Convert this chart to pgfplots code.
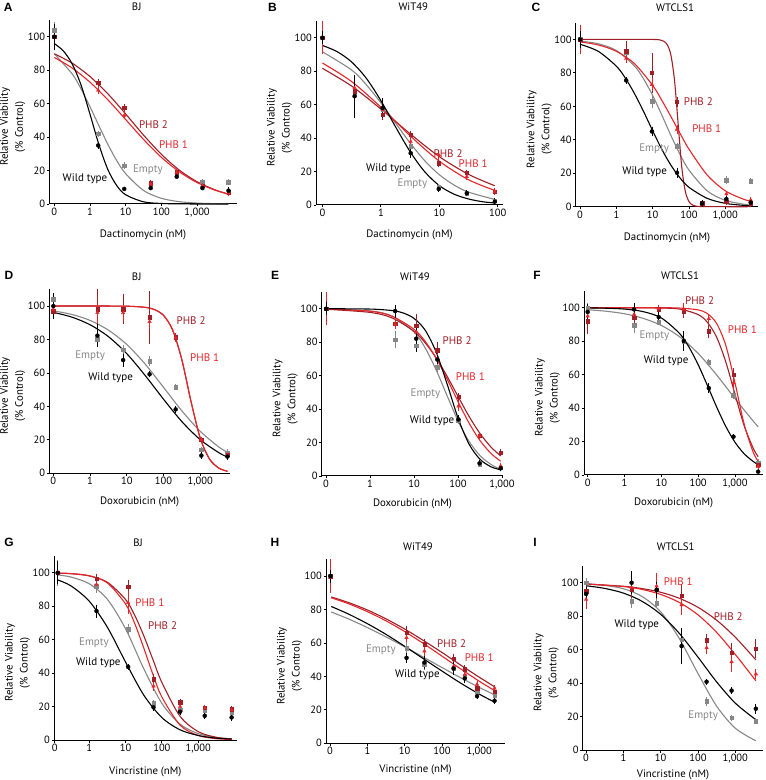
\documentclass[border=0pt]{standalone}
\usepackage{fontspec}
\setmainfont{PT Sans}
\newfontfamily\letterfont{Liberation Sans}
\usepackage{pgfplots}
\pgfplotsset{compat=1.18}
\definecolor{cemp}{RGB}{135,135,135}
\definecolor{cpa}{RGB}{228,38,42}
\definecolor{cpb}{RGB}{160,30,38}
\newcommand{\fs}[2]{\fontsize{#1}{#2}\selectfont}
\pgfplotsset{
  panel/.style={anchor=south west, scale only axis, height=184pt, ymin=0, ymax=110,
    axis lines=left, axis line style={-, line width=1pt}, ytick={0,20,40,60,80,100},
    tick align=outside, major tick length=2.5pt, tick style={line width=0.8pt, black},
    tick label style={font=\fs{10.5}{12}, inner sep=1.5pt}, label style={font=\fs{10.8}{15}},
    ylabel={Relative Viability\\(\% Control)}, ylabel style={align=center, inner sep=1pt, at={(ticklabel cs:0.42)}},
    xlabel style={yshift=-5pt},
    clip=false, /pgf/number format/assume math mode=true,
    xtick={-1,0,1,2,3}, xticklabels={0,1,10,100,{1,000}}},
  cw/.style={black, line width=1.1pt, smooth, no marks},
  ce/.style={cemp, line width=1.1pt, smooth, no marks},
  ca/.style={cpa, line width=1.1pt, smooth, no marks},
  cb/.style={cpb, line width=1.1pt, smooth, no marks},
  pt/.style={only marks, /pgfplots/error bars/y dir=both, /pgfplots/error bars/y explicit,
    /pgfplots/error bars/error bar style={line width=0.7pt},
    /pgfplots/error bars/error mark options={mark size=1.5pt, line width=0.7pt}},
  pw/.style={pt, black, mark=*, mark size=2pt},
  pe/.style={pt, cemp, mark=square*, mark size=1.8pt},
  pa/.style={pt, cpa, mark=triangle*, mark size=2pt},
  pb/.style={pt, cpb, mark=square*, mark size=1.7pt},
}
\newcommand{\lbl}[4]{\node[text=#1, font=\fs{11}{12}] at (axis cs:#2,#3) {#4};}
\begin{document}
\begin{tikzpicture}
\useasboundingbox (0,0) rectangle (766pt,780pt);
% titles and letters
\node[font=\letterfont\bfseries\fs{12}{13}] at (8.3pt,773pt) {A};
\node[font=\letterfont\bfseries\fs{12}{13}] at (272.5pt,773pt) {B};
\node[font=\letterfont\bfseries\fs{12}{13}] at (536pt,773pt) {C};
\node[font=\letterfont\bfseries\fs{12}{13}] at (9pt,505pt) {D};
\node[font=\letterfont\bfseries\fs{12}{13}] at (275pt,505pt) {E};
\node[font=\letterfont\bfseries\fs{12}{13}] at (537pt,505pt) {F};
\node[font=\letterfont\bfseries\fs{12}{13}] at (9pt,237.7pt) {G};
\node[font=\letterfont\bfseries\fs{12}{13}] at (275pt,237.7pt) {H};
\node[font=\letterfont\bfseries\fs{12}{13}] at (535pt,238pt) {I};
\node[font=\fs{10.8}{12}] at (136.7pt,773pt) {BJ};
\node[font=\fs{10.8}{12}] at (413.3pt,773pt) {WiT49};
\node[font=\fs{10.8}{12}] at (675pt,772pt) {WTCLS1};
\node[font=\fs{10.8}{12}] at (136.7pt,503.3pt) {BJ};
\node[font=\fs{10.8}{12}] at (415pt,503.3pt) {WiT49};
\node[font=\fs{10.8}{12}] at (680pt,504pt) {WTCLS1};
\node[font=\fs{10.8}{12}] at (138pt,237pt) {BJ};
\node[font=\fs{10.8}{12}] at (418pt,233.3pt) {WiT49};
\node[font=\fs{10.8}{12}] at (675.7pt,233pt) {WTCLS1};

% ---------------- A ----------------
\begin{axis}[panel, at={(49.3pt,576pt)}, width=187.4pt, xmin=-1.14, xmax=4.11, xlabel={Dactinomycin (nM)}, xlabel style={yshift=-3pt}]
\addplot[ce] coordinates {(-1,89.8) (-0.5,77.8) (-0.25,68.8) (0,58.2) (0.25,46.8) (0.5,35.7) (0.75,25.9) (1,18.1) (1.5,8.1) (2,3.4) (2.5,1.4) (3,0.55) (3.5,0.2) (3.88,0.1)};
\addplot[cb] coordinates {(-1,89.8) (-0.5,84.2) (0,76.2) (0.5,65.9) (1,53.8) (1.5,41.2) (2,29.7) (2.5,20.3) (3,13.3) (3.5,8.5) (3.88,5.9)};
\addplot[ca] coordinates {(-1,87.6) (-0.5,81.3) (0,72.8) (0.5,62.3) (1,50.5) (1.5,38.6) (2,27.9) (2.5,19.3) (3,12.8) (3.5,8.3) (3.88,5.9)};
\addplot[cw] coordinates {(-1,95.9) (-0.75,91.6) (-0.5,83.8) (-0.25,71.1) (0,53.7) (0.25,35.5) (0.5,20.6) (0.75,11.0) (1,5.5) (1.5,1.3) (2,0.3) (2.5,0.1) (3,0) (3.88,0)};
\addplot[pe] table[x=u,y=v,y error=e]{
u v e
-1 104 4
0.23 42 1
0.96 23 1
1.70 12 1
2.43 18 1
3.15 13 1
3.88 13 1
};
\addplot[pb] table[x=u,y=v,y error=e]{
u v e
-1 100 3
0.23 72.5 1.5
0.96 57.5 1.5
1.70 12.5 1
2.43 19 1
3.15 11 1
3.88 7 1
};
\addplot[pa] table[x=u,y=v,y error=e]{
u v e
-1 100 2
0.23 68 1.5
0.96 53 1.5
1.70 12 1
2.43 19 1
3.15 11 1
3.88 6.5 1
};
\addplot[pw] table[x=u,y=v,y error=e]{
u v e
-1 100 7
0.23 35 1
0.96 9 0
1.70 9.5 0
2.43 16.3 0
3.15 9.5 0
3.88 8 1
};
\lbl{cpb}{1.78}{47.2}{PHB 2}
\lbl{cpa}{2.34}{35.3}{PHB 1}
\lbl{cemp}{1.62}{20.3}{Empty}
\lbl{black}{-0.14}{15}{Wild type}
\end{axis}

% ---------------- B ----------------
\begin{axis}[panel, at={(316pt,575pt)}, width=187pt, xmin=-1.11, xmax=2.09, xtick={-1,0,1,2}, xticklabels={0,1,10,100}, xlabel={Dactinomycin (nM)}, xlabel style={yshift=-3pt}]
\addplot[ce] coordinates {(-1,91.6) (-0.5,80.7) (-0.25,71.9) (0,61.1) (0.25,49.0) (0.5,37.1) (0.75,26.5) (1,18.1) (1.25,12.0) (1.5,7.7) (1.95,3.3)};
\addplot[cb] coordinates {(-1,81.7) (-0.5,71.1) (0,57.4) (0.5,42.6) (1,28.9) (1.5,18.3) (1.95,11.5)};
\addplot[ca] coordinates {(-1,84.9) (-0.5,73.8) (0,58.5) (0.5,41.4) (1,26.2) (1.5,15.1) (1.95,8.7)};
\addplot[cw] coordinates {(-1,95.4) (-0.75,91.7) (-0.5,85.5) (-0.25,75.8) (0,62.4) (0.25,46.8) (0.5,31.9) (0.75,19.9) (1,11.6) (1.25,6.5) (1.5,3.6) (1.75,1.9) (1.95,1.2)};
\addplot[pe] table[x=u,y=v,y error=e]{
u v e
-1 100 2
-0.45 67 3
0.03 57 3
0.51 35 2
0.99 10.5 1
1.47 7 1
1.95 2.5 1
};
\addplot[pb] table[x=u,y=v,y error=e]{
u v e
-1 100 5
-0.45 68 4
0.03 54 2
0.51 42 1.5
0.99 25 1.5
1.47 19.3 1
1.95 8 1
};
\addplot[pa] table[x=u,y=v,y error=e]{
u v e
-1 100 9
-0.45 70 3
0.03 57 3
0.51 38 2
0.99 30 2
1.47 17 1
1.95 8 1
};
\addplot[pw] table[x=u,y=v,y error=e]{
u v e
-1 100 3
-0.45 65 12
0.03 58 5
0.51 31 2
0.99 9.6 1
1.47 7 1
1.95 2 1
};
\lbl{cpb}{1.15}{30.5}{PHB 2}
\lbl{cpa}{1.58}{24.9}{PHB 1}
\lbl{black}{0.13}{21.9}{Wild type}
\lbl{cemp}{0.54}{12.5}{Empty}
\end{axis}

% ---------------- C ----------------
\begin{axis}[panel, at={(575.7pt,573.3pt)}, width=182.6pt, xmin=-1.12, xmax=3.91, xlabel={Dactinomycin (nM)}, xlabel style={yshift=-3pt}]
\addplot[ce] coordinates {(-1,99.0) (-0.5,97.4) (0,93.4) (0.5,84.1) (0.75,76.4) (1,66.5) (1.25,54.9) (1.5,42.7) (1.75,31.4) (2,21.9) (2.5,9.5) (3,3.8) (3.5,1.5) (3.7,1.0)};
\addplot[cb] coordinates {(-1,100) (0,100) (1,100) (1.2,99.7) (1.3,99) (1.4,96.9) (1.5,90.9) (1.6,76) (1.7,50) (1.8,24) (1.9,9.1) (2.0,3.1) (2.1,1) (2.3,0.1) (3,0) (3.7,0)};
\addplot[ca] coordinates {(-1,98.5) (-0.5,96.7) (0,92.9) (0.5,85.5) (1,72.5) (1.25,63.7) (1.5,54.0) (1.75,44.0) (2,34.4) (2.5,19.0) (3,9.5) (3.5,4.5) (3.7,3.3)};
\addplot[cw] coordinates {(-1,97.1) (-0.5,92.9) (0,84.0) (0.25,76.8) (0.5,67.6) (0.75,56.9) (1,45.4) (1.25,34.4) (1.5,24.9) (1.75,17.3) (2,11.6) (2.5,5.0) (3,2.0) (3.5,0.8) (3.7,0.6)};
\addplot[pe] table[x=u,y=v,y error=e]{
u v e
-1 100 2
0.27 92 2
0.98 63 3
1.67 36 1
2.36 2 1
3.03 16 1.5
3.7 15.3 1
};
\addplot[pb] table[x=u,y=v,y error=e]{
u v e
-1 100 8
0.27 93 5
0.98 80 11
1.67 62.7 2
2.36 2 1
3.03 3 1
3.7 2 1
};
\addplot[pa] table[x=u,y=v,y error=e]{
u v e
-1 100 7
0.27 88.6 2
0.98 73 3
1.67 46.2 2
2.36 2 1
3.03 7.6 1
3.7 4 1
};
\addplot[pw] table[x=u,y=v,y error=e]{
u v e
-1 100 4
0.27 75.5 1
0.98 45 2
1.67 20.3 2
2.36 2 1
3.03 4.6 1
3.7 2.5 1
};
\lbl{cpb}{2.26}{62.7}{PHB 2}
\lbl{cpa}{2.49}{46.4}{PHB 1}
\lbl{cemp}{1.04}{34.5}{Empty}
\lbl{black}{0.78}{20.9}{Wild type}
\end{axis}

% ---------------- D ----------------
\begin{axis}[panel, at={(49.3pt,306.7pt)}, width=180.7pt, xmin=-1.11, xmax=3.81, xlabel={Doxorubicin (nM)}]
\addplot[ce] coordinates {(-1,97.1) (-0.5,95.0) (0,91.4) (0.5,85.6) (1,77.0) (1.5,65.3) (2,51.4) (2.5,37.3) (3,25.1) (3.5,15.8) (3.74,12.5)};
\addplot[cb] coordinates {(-1,100) (0,100) (1,99.9) (1.5,99.2) (1.75,97.9) (2,94.4) (2.25,85.6) (2.5,67.8) (2.75,42.8) (3,21.0) (3.25,8.6) (3.5,3.2) (3.74,1.2)};
\addplot[ca] coordinates {(-1,100) (0,100) (1,99.9) (1.5,99.2) (1.75,97.9) (2,94.4) (2.25,85.6) (2.5,67.8) (2.75,42.8) (3,21.0) (3.25,8.6) (3.5,3.2) (3.74,1.2)};
\addplot[cw] coordinates {(-1,96.2) (-0.5,93.4) (0,88.8) (0.5,81.7) (1,71.5) (1.5,58.5) (2,44.3) (2.5,30.9) (3,20.1) (3.5,12.4) (3.74,9.7)};
\addplot[pe] table[x=u,y=v,y error=e]{
u v e
-1 104 3
0.2 80 2
0.9 74 2
1.62 67 2
2.33 51.4 1
3.03 14 1
3.74 12.4 1
};
\addplot[pb] table[x=u,y=v,y error=e]{
u v e
-1 97 3
0.2 98 11
0.9 98 8
1.62 93.2 15
2.33 81.3 1.5
3.03 20 1
3.74 11 1
};
\addplot[pa] table[x=u,y=v,y error=e]{
u v e
-1 98 3
0.2 96 5
0.9 96 4
1.62 90.6 4
2.33 81 1.5
3.03 20 1
3.74 11 1
};
\addplot[pw] table[x=u,y=v,y error=e]{
u v e
-1 100 7
0.2 82.3 6
0.9 67.7 3
1.62 59.2 1
2.33 38.2 1
3.03 10.6 1
3.74 10 1
};
\lbl{cpb}{2.75}{91}{PHB 2}
\lbl{cpa}{3.12}{69.3}{PHB 1}
\lbl{cemp}{0.0}{70.1}{Empty}
\lbl{black}{0.56}{57.4}{Wild type}
\end{axis}

% ---------------- E ----------------
\begin{axis}[panel, at={(321.7pt,304pt)}, width=181.6pt, xmin=-1.10, xmax=3.03, xlabel={Doxorubicin (nM)}]
\addplot[ce] coordinates {(-1,99.9) (0,98.7) (0.5,95.6) (1,86.1) (1.25,76.7) (1.5,63.6) (1.75,48.1) (2,33.0) (2.25,20.7) (2.5,12.2) (2.75,6.9) (2.97,4.0)};
\addplot[cb] coordinates {(-1,99.7) (0,97.8) (0.5,94.5) (1,86.5) (1.25,79.7) (1.5,70.7) (1.75,59.7) (2,47.6) (2.25,35.7) (2.5,25.4) (2.75,17.3) (2.97,12.0)};
\addplot[ca] coordinates {(-1,99.8) (0,98.5) (0.5,95.5) (1,87.7) (1.25,80.6) (1.5,70.6) (1.75,58.1) (2,44.5) (2.25,31.7) (2.5,21.2) (2.75,13.5) (2.97,8.8)};
\addplot[cw] coordinates {(-1,100) (0,99.8) (0.5,98.9) (0.75,97.5) (1,94.2) (1.25,87.3) (1.5,74.3) (1.75,55.2) (2,34.7) (2.25,19.1) (2.5,10.0) (2.75,5.5) (2.97,3.7)};
\addplot[pe] table[x=u,y=v,y error=e]{
u v e
-1 100 2
0.57 81.5 4
1.05 78 3
1.53 65.2 2
2.01 33 1
2.49 7 1
2.97 5 1
};
\addplot[pb] table[x=u,y=v,y error=e]{
u v e
-1 100 5
0.57 91 2
1.05 90 6
1.53 75.1 4
2.01 47.3 1.5
2.49 24 1
2.97 14.1 1
};
\addplot[pa] table[x=u,y=v,y error=e]{
u v e
-1 100 9
0.57 90.7 2
1.05 86 3
1.53 70 2
2.01 41.7 2
2.49 23.9 1
2.97 6 1
};
\addplot[pw] table[x=u,y=v,y error=e]{
u v e
-1 100 3
0.57 98.6 3
1.05 82.1 7
1.53 69.6 2
2.01 33.8 1.5
2.49 7.6 1
2.97 4.6 1
};
\lbl{cpb}{1.98}{81.1}{PHB 2}
\lbl{cpa}{2.28}{59.6}{PHB 1}
\lbl{cemp}{1.26}{49.3}{Empty}
\lbl{black}{1.41}{33}{Wild type}
\end{axis}

% ---------------- F ----------------
\begin{axis}[panel, at={(584pt,305pt)}, width=179.3pt, xmin=-1.10, xmax=3.77, xlabel={Doxorubicin (nM)}]
\addplot[ce] coordinates {(-1,98.8) (-0.5,97.9) (0,96.4) (0.5,93.7) (1,89.4) (1.5,82.6) (2,72.7) (2.5,59.9) (3,45.7) (3.5,32.1) (3.63,28.9)};
\addplot[cb] coordinates {(-1,100) (0,100) (1,99.8) (1.5,99.2) (2,95.9) (2.25,91.3) (2.5,82.5) (2.75,67.7) (3,48.4) (3.25,29.5) (3.5,15.8) (3.63,11.0)};
\addplot[ca] coordinates {(-1,100) (0,100) (1,100) (1.5,99.8) (2,98.7) (2.25,96.5) (2.5,90.7) (2.75,77.6) (3,55.2) (3.25,30.4) (3.5,13.4) (3.63,8.3)};
\addplot[cw] coordinates {(-1,99.9) (-0.5,99.7) (0,99.2) (0.5,97.7) (1,93.9) (1.5,84.5) (1.75,76.5) (2,66.0) (2.25,53.6) (2.5,40.8) (2.75,29.1) (3,19.6) (3.25,12.7) (3.5,8.0) (3.63,6.2)};
\addplot[pe] table[x=u,y=v,y error=e]{
u v e
-1 100 2
0.26 89.5 4
0.93 91.5 1
1.61 80 2
2.29 67.6 1
2.96 47.7 1.5
3.63 7.4 1
};
\addplot[pb] table[x=u,y=v,y error=e]{
u v e
-1 92 7
0.26 94 3
0.93 99 2
1.61 98 3
2.29 85.9 3
2.96 60 3
3.63 6 1
};
\addplot[pa] table[x=u,y=v,y error=e]{
u v e
-1 95 4
0.26 96 2
0.93 99.5 1.5
1.61 99 3
2.29 93.4 1.5
2.96 55 3
3.63 5 1
};
\addplot[pw] table[x=u,y=v,y error=e]{
u v e
-1 97.5 4
0.26 99 3
0.93 94.4 3
1.61 80.1 5
2.29 51.9 2
2.96 22.9 1
3.63 2 0
};
\lbl{cpb}{2.04}{104.4}{PHB 2}
\lbl{cpa}{3.2}{87.1}{PHB 1}
\lbl{cemp}{0.81}{83.5}{Empty}
\lbl{black}{1.13}{68.6}{Wild type}
\end{axis}

% ---------------- G ----------------
\begin{axis}[panel, at={(54pt,40pt)}, width=182.7pt, xmin=-0.97, xmax=4.06, xtick={-0.95,0,1,2,3}, xlabel={Vincristine (nM)}, xlabel style={yshift=-4pt}]
\addplot[ce] coordinates {(-0.87,98.7) (-0.5,97.4) (0,93.4) (0.5,84.1) (1,66.5) (1.5,42.7) (2,21.9) (2.5,9.5) (3,3.8) (3.5,1.5) (3.92,0.7)};
\addplot[cb] coordinates {(-0.87,99.7) (-0.5,99.4) (0,98.1) (0.5,94.3) (1,84.0) (1.25,74.7) (1.5,62.4) (1.75,48.3) (2,34.4) (2.5,14.2) (3,5.0) (3.5,1.6) (3.92,0.6)};
\addplot[ca] coordinates {(-0.87,99.8) (-0.5,99.5) (0,98.2) (0.5,93.9) (1,81.3) (1.25,69.8) (1.5,55.1) (1.75,39.4) (2,25.7) (2.5,8.9) (3,2.7) (3.5,0.8) (3.92,0.3)};
\addplot[cw] coordinates {(-0.87,95.7) (-0.5,92.1) (0,83.0) (0.5,67.4) (1,46.6) (1.5,26.9) (2,13.4) (2.5,6.1) (3,2.7) (3.5,1.1) (3.92,0.6)};
\addplot[pe] table[x=u,y=v,y error=e]{
u v e
-0.87 100 7
0.2 92 3
1.07 66.2 2
1.77 21.9 1
2.5 18 1
3.18 17.5 1
3.92 16.5 1
};
\addplot[pb] table[x=u,y=v,y error=e]{
u v e
-0.87 100 5
0.2 96.4 2
1.07 91.5 3
1.77 36.4 2
2.5 22.5 1
3.18 19.3 1
3.92 18.5 1
};
\addplot[pa] table[x=u,y=v,y error=e]{
u v e
-0.87 100 4
0.2 93 2
1.07 82.1 6
1.77 32.2 2
2.5 20 1
3.18 19 1
3.92 18 1
};
\addplot[pw] table[x=u,y=v,y error=e]{
u v e
-0.87 100 6
0.2 77.1 3
1.07 43.7 1
1.77 19.5 1
2.5 16.9 1
3.18 14.5 1
3.92 13.5 1
};
\lbl{cpa}{1.67}{82.1}{PHB 1}
\lbl{cpb}{2.02}{68.2}{PHB 2}
\lbl{cemp}{0.13}{58}{Empty}
\lbl{black}{0.25}{46.3}{Wild type}
\end{axis}

% ---------------- H ----------------
\begin{axis}[panel, at={(326pt,36.7pt)}, width=179pt, xmin=-1.11, xmax=3.69, xlabel={Vincristine (nM)}, xlabel style={yshift=2pt}]
\addplot[ce] coordinates {(-0.97,78.5) (-0.5,74.3) (0,69.2) (0.5,63.6) (1,57.7) (1.5,51.5) (2,45.3) (2.5,39.2) (3,33.4) (3.41,29.0)};
\addplot[cb] coordinates {(-0.97,87.5) (-0.5,84.1) (0,79.7) (0.5,74.4) (1,68.3) (1.5,61.5) (2,54.3) (2.5,46.8) (3,39.5) (3.41,33.8)};
\addplot[ca] coordinates {(-0.97,87.0) (-0.5,83.4) (0,78.7) (0.5,73.2) (1,66.8) (1.5,59.7) (2,52.1) (2.5,44.5) (3,37.1) (3.41,31.5)};
\addplot[cw] coordinates {(-0.97,81.8) (-0.5,77.2) (0,71.5) (0.5,65.1) (1,58.0) (1.5,50.6) (2,43.2) (2.5,36.0) (3,29.4) (3.41,24.6)};
\addplot[pe] table[x=u,y=v,y error=e]{
u v e
-0.99 100 2
1.05 56.7 3
1.53 47 2
2.31 45 2
2.61 40 1
2.94 31.2 1
3.41 28.4 1
};
\addplot[pb] table[x=u,y=v,y error=e]{
u v e
-0.99 100 5
1.05 66 3
1.53 59.2 2.5
2.31 50.7 2
2.61 44.3 1.5
2.94 33 1
3.41 31 1
};
\addplot[pa] table[x=u,y=v,y error=e]{
u v e
-0.99 100 9
1.05 63.2 2
1.53 55.1 2
2.31 46 2
2.61 41 1
2.94 35.2 1
3.41 32.9 1
};
\addplot[pw] table[x=u,y=v,y error=e]{
u v e
-0.99 100 3
1.05 51.1 2
1.53 48.3 3
2.31 44.7 3
2.61 38.8 2
2.94 28.2 1
3.41 25.4 1
};
\lbl{cpb}{2.26}{59.6}{PHB 2}
\lbl{cpa}{3.0}{51.1}{PHB 1}
\lbl{cemp}{0.36}{55.7}{Empty}
\lbl{black}{1.34}{40.8}{Wild type}
\end{axis}

% ---------------- I ----------------
\begin{axis}[panel, at={(582.7pt,30pt)}, width=180.6pt, xmin=-1.09, xmax=3.75, xlabel={Vincristine (nM)}, xlabel style={yshift=3pt}]
\addplot[ce] coordinates {(-1,99.3) (-0.5,98.4) (0,96.4) (0.5,91.8) (1,82.6) (1.5,66.6) (2,45.7) (2.5,26.2) (3,13.0) (3.55,5.5)};
\addplot[cb] coordinates {(-1,99.2) (0,97.9) (0.5,96.5) (1,94.3) (1.5,90.7) (2,85.3) (2.5,77.6) (3,67.4) (3.55,53.9)};
\addplot[ca] coordinates {(-1,99.3) (0,97.7) (0.5,96.0) (1,93.0) (1.5,88.2) (2,80.8) (2.5,70.3) (3,57.1) (3.55,41.4)};
\addplot[cw] coordinates {(-1,98.2) (-0.5,96.6) (0,93.8) (0.5,88.9) (1,81.1) (1.5,69.7) (2,55.5) (2.5,40.7) (3,28.0) (3.55,18.1)};
\addplot[pe] table[x=u,y=v,y error=e]{
u v e
-1 100 2
0.22 88.8 3
0.89 87.8 2
1.56 66 3
2.23 29 2
2.9 19.2 1
3.55 17.2 1
};
\addplot[pb] table[x=u,y=v,y error=e]{
u v e
-1 95 5
0.22 96 4
0.89 96 5
1.56 92.1 6
2.23 65.7 3
2.9 58.2 5
3.55 60.6 5
};
\addplot[pa] table[x=u,y=v,y error=e]{
u v e
-1 90 5
0.22 97 3
0.89 98 7
1.56 86.8 5
2.23 61.1 3
2.9 52.7 5
3.55 45.4 2
};
\addplot[pw] table[x=u,y=v,y error=e]{
u v e
-1 93.3 3
0.22 100 6
0.89 95.7 4
1.56 62.1 10
2.23 40.8 1
2.9 35.5 1
3.55 24.7 2
};
\lbl{cpa}{1.47}{100.6}{PHB 1}
\lbl{cpb}{2.81}{79.9}{PHB 2}
\lbl{black}{0.36}{74.9}{Wild type}
\lbl{cemp}{2.14}{20.7}{Empty}
\end{axis}
\end{tikzpicture}
\end{document}
